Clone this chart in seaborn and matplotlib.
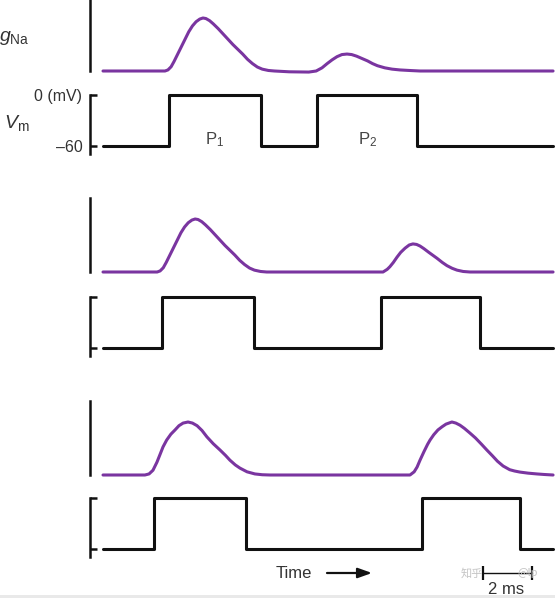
import numpy as np
import pandas as pd
import matplotlib
matplotlib.use("Agg")
import matplotlib.pyplot as plt
import seaborn as sns
from matplotlib.patches import Rectangle

# ---------------- data (time in ms, gNa in units of the full peak) ----------------
# Panel 1
g1_t = [0, 2.53, 2.65, 2.78, 2.9, 3.05, 3.2, 3.35, 3.5, 3.65, 3.8, 3.95, 4.08, 4.2, 4.35,
        4.5, 4.7, 4.9, 5.1, 5.3, 5.5, 5.7, 5.9, 6.1, 6.3, 6.5, 6.75, 7.0,
        7.6, 8.4, 8.7, 8.94, 9.15, 9.35, 9.55, 9.75, 9.96, 10.15, 10.35, 10.55, 10.8,
        11.0, 11.2, 11.5, 11.8, 12.12, 12.5, 12.94, 18.37]
g1_v = [0, 0, 0.02, 0.08, 0.18, 0.32, 0.46, 0.60, 0.74, 0.85, 0.93, 0.98, 1.0, 0.99, 0.95,
        0.89, 0.80, 0.70, 0.60, 0.50, 0.41, 0.32, 0.22, 0.14, 0.075, 0.035, 0.01, 0,
        -0.015, -0.02, 0.0, 0.06, 0.14, 0.21, 0.27, 0.31, 0.32, 0.31, 0.28, 0.24, 0.19,
        0.14, 0.10, 0.06, 0.035, 0.02, 0.01, 0, 0]
v1_t = [0, 2.7, 6.45, 8.75, 12.8, 18.37]
v1_v = [-60, 0, -60, 0, -60, -60]

# Panel 2
g2_t = [0, 2.21, 2.33, 2.46, 2.58, 2.73, 2.88, 3.03, 3.18, 3.33, 3.48, 3.63, 3.76, 3.88,
        4.03, 4.18, 4.38, 4.58, 4.78, 4.98, 5.18, 5.38, 5.58, 5.78, 5.98, 6.18, 6.43, 6.68,
        11.43, 11.6, 11.71, 11.85, 12.0, 12.15, 12.33, 12.5, 12.65, 12.8, 12.94, 13.1,
        13.3, 13.45, 13.63, 13.85, 14.04, 14.25, 14.45, 14.7, 14.98, 18.37]
g2_v = [0, 0, 0.02, 0.08, 0.18, 0.32, 0.46, 0.60, 0.74, 0.85, 0.93, 0.98, 1.0, 0.99,
        0.95, 0.89, 0.80, 0.70, 0.60, 0.50, 0.41, 0.32, 0.22, 0.14, 0.075, 0.035, 0.01, 0,
        0, 0.05, 0.10, 0.18, 0.28, 0.37, 0.45, 0.51, 0.53, 0.52, 0.49, 0.44,
        0.37, 0.32, 0.26, 0.18, 0.12, 0.07, 0.035, 0.01, 0, 0]
v2_t = [0, 2.4, 6.15, 11.35, 15.4, 18.37]
v2_v = [-60, 0, -60, 0, -60, -60]

# Panel 3
g3_t = [0, 1.71, 1.88, 2.04, 2.2, 2.33, 2.45, 2.6, 2.77, 2.94, 3.1, 3.27, 3.47, 3.65,
        3.84, 4.04, 4.24, 4.5, 4.78, 5.0, 5.18, 5.4, 5.59, 5.88, 6.2, 6.5, 6.82,
        12.53, 12.7, 12.82, 12.94, 13.1, 13.25, 13.35, 13.5, 13.67, 13.84, 14.0, 14.24,
        14.4, 14.57, 14.75, 14.98, 15.2, 15.45, 15.67, 15.9, 16.1, 16.33, 16.6, 16.8,
        17.02, 17.35, 17.71, 18.0, 18.37]
g3_v = [0, 0, 0.02, 0.09, 0.24, 0.39, 0.53, 0.66, 0.77, 0.85, 0.93, 0.98, 1.0, 0.98,
        0.93, 0.84, 0.72, 0.59, 0.47, 0.37, 0.28, 0.19, 0.13, 0.06, 0.02, 0.005, 0,
        0, 0.06, 0.15, 0.28, 0.44, 0.58, 0.66, 0.76, 0.85, 0.91, 0.96, 1.0,
        0.98, 0.94, 0.88, 0.79, 0.70, 0.58, 0.47, 0.36, 0.26, 0.17, 0.10, 0.075,
        0.055, 0.035, 0.02, 0.01, 0]
v3_t = [0, 2.1, 5.85, 13.0, 17.0, 18.37]
v3_v = [-60, 0, -60, 0, -60, -60]

vm_ticks = [-60, 0]
vm_ticklabels = ["\u201360", "0 (mV)"]
pulse_labels = [r"P$_1$", r"P$_2$"]
pulse_label_t = [4.57, 10.8]
scale_start = 15.5
scale_len = 2  # ms

# ---------------- style ----------------
sns.set_theme(style="white")
plt.rcParams["font.family"] = ["Liberation Sans", "DejaVu Sans"]
plt.rcParams["mathtext.fontset"] = "custom"
plt.rcParams["mathtext.rm"] = "Liberation Sans"
plt.rcParams["mathtext.it"] = "Liberation Sans:italic"

PURPLE = "#7a35a0"
BLACK = "#111111"
TXT = "#333333"
W, H = 555, 598
PX_PER_MS = 24.5
X0 = (90 - 103) / PX_PER_MS
X1 = (555 - 103) / PX_PER_MS

fig = plt.figure(figsize=(W / 100, H / 100), dpi=100)
fig.patch.set_facecolor("white")


def px_axes(top, bottom, left=90, right=555):
    ax = fig.add_axes([left / W, 1 - bottom / H, (right - left) / W, (bottom - top) / H])
    ax.set_facecolor("none")
    ax.set_xlim(X0, X1)
    for s in ["top", "right", "bottom"]:
        ax.spines[s].set_visible(False)
    ax.spines["left"].set_color(BLACK)
    ax.spines["left"].set_linewidth(1.8)
    ax.set_xticks([])
    return ax


G_SCALE = 53.0  # px per unit g
G_LO, G_HI = -0.2, 1.45
V_SCALE = 0.85  # px per mV
V_LO, V_HI = -75, 8


def g_axes(baseline_px, spine_top=1.4):
    ax = px_axes(baseline_px - G_HI * G_SCALE, baseline_px - G_LO * G_SCALE)
    ax.set_ylim(G_LO, G_HI)
    ax.set_yticks([])
    ax.spines["left"].set_bounds(0, spine_top)
    return ax


def v_axes(minus60_px, labels=False):
    top = minus60_px - (V_HI + 60) * V_SCALE
    bottom = minus60_px + (-60 - V_LO) * V_SCALE
    ax = px_axes(top, bottom)
    ax.set_ylim(V_LO, V_HI)
    ax.spines["left"].set_bounds(-69, 0)
    ax.set_yticks(vm_ticks)
    ax.tick_params(axis="y", direction="in", length=5, width=1.8, color=BLACK,
                   pad=5.5, labelsize=11.5, labelcolor=TXT, left=True,
                   labelleft=labels)
    if labels:
        ax.set_yticklabels(vm_ticklabels)
    return ax


panels = [
    (g1_t, g1_v, v1_t, v1_v, 71, 146, True),
    (g2_t, g2_v, v2_t, v2_v, 272, 348, False),
    (g3_t, g3_v, v3_t, v3_v, 475, 549, False),
]

v_axes_list = []
for i, (gt, gv, vt, vv, gb, vb, lab) in enumerate(panels):
    spine_top = 1.34 if i == 0 else 1.4
    axg = g_axes(gb, spine_top)
    sns.lineplot(x=np.array(gt), y=np.array(gv), ax=axg, color=PURPLE,
                 linewidth=2.2, estimator=None, sort=False,
                 solid_joinstyle="round", solid_capstyle="round")
    axg.set_xlabel(""); axg.set_ylabel("")
    axv = v_axes(vb, labels=lab)
    sns.lineplot(x=np.array(vt), y=np.array(vv), ax=axv, color=BLACK,
                 linewidth=2.2, estimator=None, sort=False, drawstyle="steps-post")
    axv.set_xlabel(""); axv.set_ylabel("")
    v_axes_list.append(axv)

# pulse labels on first Vm panel
ax1 = v_axes_list[0]
for lbl, t in zip(pulse_labels, pulse_label_t):
    ax1.text(t, -53, lbl, ha="center", va="center", fontsize=12, color="#444444")

# side labels
fig.text(-1 / W, 1 - 38 / H, r"$g_{\mathrm{Na}}$", ha="left", va="center",
         fontsize=14, color=TXT)
fig.text(4 / W, 1 - 123 / H, r"$V_{\mathrm{m}}$", ha="left", va="center",
         fontsize=14, color=TXT)

# Time arrow
fig.text(276 / W, 1 - 573 / H, "Time", ha="left", va="center", fontsize=12, color=TXT)
ax_arrow = fig.add_axes([0, 0, 1, 1], facecolor="none")
ax_arrow.set_axis_off()
ax_arrow.set_xlim(0, W); ax_arrow.set_ylim(H, 0)
ax_arrow.annotate("", xy=(372, 573), xytext=(327, 573),
                  arrowprops=dict(arrowstyle="-|>,head_length=0.7,head_width=0.25",
                                  color=BLACK, lw=1.6, shrinkA=0, shrinkB=0))

# watermark
wm_font = ["Noto Sans CJK SC", "DejaVu Sans"]
fig.text(461 / W, 1 - 573 / H, "知乎", ha="left", va="center", fontsize=8,
         color="#c4c4c4", family=wm_font)
fig.text(517 / W, 1 - 573 / H, "@lp", ha="left", va="center", fontsize=8,
         color="#c4c4c4", family=wm_font)

# scale bar (2 ms) drawn in data units of the bottom Vm axes
ax3 = v_axes_list[2]
y_bar = -60 - (573 - 549) / V_SCALE
ax3.plot([scale_start, scale_start + scale_len], [y_bar, y_bar], color=BLACK,
         lw=1.0, clip_on=False)
ax3.plot([scale_start, scale_start + scale_len], [y_bar, y_bar], linestyle="none",
         marker="|", markersize=10, markeredgewidth=1.6, color=BLACK, clip_on=False)
fig.text(506 / W, 1 - 589 / H, f"{scale_len} ms", ha="center", va="center",
         fontsize=12, color=TXT)

# faint grey strip at the bottom edge
fig.patches.append(Rectangle((0, 0), 1, 3 / H, transform=fig.transFigure,
                             facecolor="#e9e9e9", edgecolor="none", zorder=-1))

fig.savefig("out.png", dpi=100, facecolor="white")
